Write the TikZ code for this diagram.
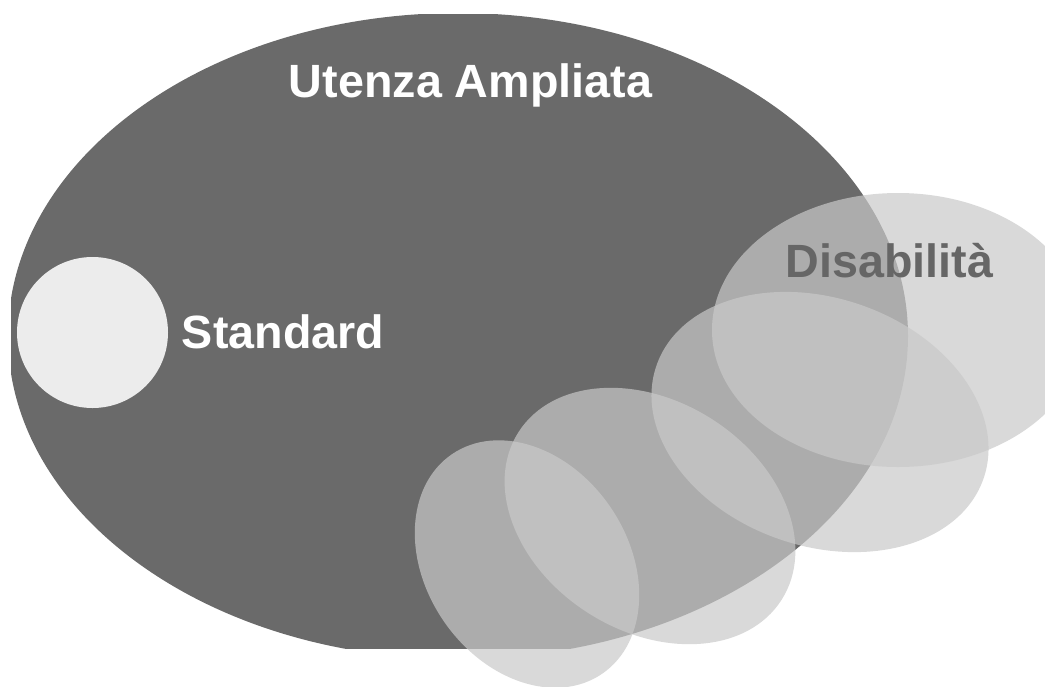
\documentclass[tikz,border=0pt]{standalone}
\usepackage{fontspec}
\setmainfont{Liberation Sans}
\usepackage{tikz}

\definecolor{darkGray}{RGB}{106,106,106}
\definecolor{paleGray}{RGB}{236,236,236}
\definecolor{veilGray}{RGB}{201,201,201}
\definecolor{textGray}{RGB}{102,102,102}

\begin{document}
\begin{tikzpicture}[x=0.75pt,y=0.75pt,yscale=-1,xscale=1,
  bigtext/.style={anchor=base,inner sep=0.75pt,font=\fontsize{35}{42}\selectfont\bfseries},
  veil/.style={fill=veilGray,fill opacity=0.7}]
%set diagram left start at 0, and has height of 686
\useasboundingbox (0,0) rectangle (1045,686);
\fill[white] (0,0) rectangle (1045,686);

%Shape: Ellipse (cut at the picture border)
\begin{scope}
\clip (11,14) rectangle (1045,648);
\fill[darkGray] (458,336) ellipse (450 and 323);
\end{scope}
%Shape: Circle
\fill[paleGray] (92.5,332.5) circle (75.5);

%Shape: Ellipse
\fill[veil] (898,330) ellipse (186 and 137);
%Shape: Ellipse
\fill[veil,rotate around={19:(820,422)}] (820,422) ellipse (173 and 124);
%Shape: Ellipse
\fill[veil,rotate around={32.5:(650,516)}] (650,516) ellipse (156 and 115);
%Shape: Ellipse
\fill[veil,rotate around={55.6:(527,564)}] (527,564) ellipse (133 and 101);

% Text Node
\draw (470.5,97.7) node (utenza) [bigtext,text=white] {Utenza Ampliata};
% Text Node
\draw (283,348) node (standard) [bigtext,text=white] {Standard};
% Text Node
\draw (889.5,277) node (disab) [bigtext,text=textGray] {Disabilità};

\end{tikzpicture}
\end{document}
